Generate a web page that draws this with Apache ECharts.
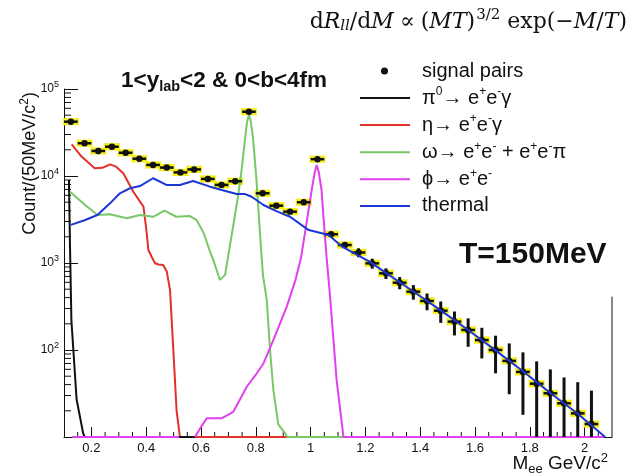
<!DOCTYPE html>
<html><head><meta charset="utf-8">
<script src="https://cdn.jsdelivr.net/npm/echarts@6/dist/echarts.min.js"></script>
<style>html,body{margin:0;padding:0;background:#fff}#c{width:636px;height:476px}</style>
</head><body><div id="c"></div>
<script>
// ---------------- data ----------------
const massBins = [0.125,0.175,0.225,0.275,0.325,0.375,0.425,0.475,0.525,0.575,0.625,0.675,0.725,0.775,0.825,0.875,0.925,0.975,1.025,1.075,1.125,1.175,1.225,1.275,1.325,1.375,1.425,1.475,1.525,1.575,1.625,1.675,1.725,1.775,1.825,1.875,1.925,1.975,2.025];
const signalCounts = [42100,23800,19400,21700,18500,15800,13400,12500,11000,11900,9250,7900,8700,54800,6330,4560,3890,4990,15600,2140,1610,1320,991,761,594,468,366,283,212,170,130,100,75,56,41,31.8,24.4,18.7,14.1];
const signalErrors = [600,400,350,380,350,320,300,300,280,300,260,240,260,900,220,190,180,210,400,130,130,155,130,107,95,89,80,78,65,61,50,46,44,38,33,28,24,24,20];
const systematicRel = 0.1;
const binHalfWidth = 0.025;

const pi0Curve = [[0.118,9000],[0.122,1500],[0.127,220],[0.146,27],[0.17,11],[0.176,10],[0.58,10]];
const etaCurve = [[0.128,23100],[0.164,16700],[0.212,12300],[0.24,12400],[0.268,13600],[0.29,12800],[0.317,10700],[0.353,6600],[0.39,4440],[0.40,2500],[0.408,1410],[0.42,1180],[0.432,993],[0.445,960],[0.462,948],[0.475,800],[0.487,490],[0.499,100],[0.511,20],[0.523,10],[0.97,10]];
const omegaCurve = [[0.122,6600],[0.177,4640],[0.222,3560],[0.268,3630],[0.329,3270],[0.377,3560],[0.425,3400],[0.467,3990],[0.51,3400],[0.558,3470],[0.584,3120],[0.61,2200],[0.633,1350],[0.645,1080],[0.669,640],[0.688,730],[0.70,1240],[0.712,2100],[0.724,3560],[0.736,6050],[0.749,12300],[0.761,27100],[0.768,42000],[0.775,50200],[0.782,42000],[0.790,27100],[0.802,9420],[0.814,2500],[0.826,728],[0.840,376],[0.852,100],[0.864,35],[0.882,14],[0.907,11],[0.915,10],[1.17,10]];
const phiCurve = [[0.13,10],[0.52,10],[0.55,null],[0.578,10],[0.60,13],[0.621,16.4],[0.675,16.4],[0.718,19.5],[0.745,28],[0.767,37.8],[0.80,52],[0.828,70],[0.864,130],[0.913,315],[0.945,640],[0.965,1150],[0.985,2860],[1.004,6900],[1.015,11000],[1.022,13400],[1.03,11000],[1.040,6900],[1.046,3720],[1.058,1200],[1.07,450],[1.095,45],[1.12,10],[2.07,10]];
const thermalCurve = [[0.125,2740],[0.175,3100],[0.222,3560],[0.268,4850],[0.304,6330],[0.341,7230],[0.377,7670],[0.425,9420],[0.474,7890],[0.523,7890],[0.571,8770],[0.633,7540],[0.676,6900],[0.73,6200],[0.761,6200],[0.785,5780],[0.828,4640],[0.875,3950],[0.925,3400],[0.993,2390],[1.066,2100],[1.115,1540],[1.215,1035],[1.275,770],[1.375,470],[1.475,285],[1.575,170],[1.675,99],[1.775,57],[1.875,32],[1.975,18.5],[2.075,10]];

const xRange = [0.1, 2.1];
const yRange = [10, 100000];
const rightFrameSpan = [10, 410];

// minor tick positions (axis decoration)
const yMinorTicks = [];
[10,100,1000,10000].forEach(d => { for (let m = 2; m <= 9; m++) yMinorTicks.push(m * d); });
const xMinorTicks = [];
for (let k = 3; k <= 41; k++) { const v = +(k * 0.05).toFixed(2); if (Math.abs(v / 0.2 - Math.round(v / 0.2)) > 1e-6 && v < 2.1) xMinorTicks.push(v); }

// ---------------- chart ----------------
const FONT = '"Liberation Sans", Arial, Helvetica, sans-serif';
const SERIF = '"DejaVu Serif", "Liberation Serif", serif';
const INK = '#111';
const C = { pi0: '#111111', eta: '#e2302a', omega: '#78c866', phi: '#e040ee', thermal: '#1a36d6' };

const legendLabels = {
  'pi0': '{t|π}{sup|0}{t|→ e}{sup|+}{t|e}{sup|-}{t|γ}',
  'eta': '{t|η→ e}{sup|+}{t|e}{sup|-}{t|γ}',
  'omega': '{t|ω→ e}{sup|+}{t|e}{sup|-}{t| + e}{sup|+}{t|e}{sup|-}{t|π}',
  'phi': '{t|ϕ→ e}{sup|+}{t|e}{sup|-}',
  'thermal': '{t|thermal}',
  'signal pairs': '{t|signal pairs}'
};
const legendRich = {
  t: { fontSize: 20, fontFamily: FONT, color: INK },
  sup: { fontSize: 12, fontFamily: FONT, color: INK, padding: [0, 0, 12, 0] }
};

const chart = echarts.init(document.getElementById('c'));

function lineSeries(name, data, color, z) {
  return { name, type: 'line', data, showSymbol: false, symbol: 'none', connectNulls: false,
    lineStyle: { color, width: 2 }, itemStyle: { color }, z, animation: false, silent: true };
}

const fr = { fontSize: 22, fontFamily: SERIF, fontWeight: 'normal', color: INK };
const option = {
  animation: false,
  backgroundColor: '#fff',
  grid: { left: 64, right: 24, top: 89, bottom: 39 },
  title: [
    { text: '{r|d}{i|R}{is|ll}{r|/d}{i|M}{o|∝}{r|(}{i|MT}{r|)}{sup|3/2}{r| exp(−}{i|M}{r|/}{i|T}{r|)}',
      right: 4, top: 3,
      textStyle: { fontWeight: 'normal', rich: {
        r: fr,
        o: Object.assign({}, fr, { padding: [0, 6, 0, 6] }),
        i: Object.assign({}, fr, { fontStyle: 'italic' }),
        is: { fontSize: 15, fontFamily: SERIF, fontWeight: 'normal', fontStyle: 'italic', color: INK, padding: [9, 0, 0, 0] },
        sup: { fontSize: 15, fontFamily: SERIF, fontWeight: 'normal', color: INK, padding: [0, 0, 13, 1] }
      } } },
    { text: '{b|1<y}{s|lab}{b|<2 & 0<b<4fm}', left: 116, top: 62,
      textStyle: { rich: {
        b: { fontSize: 22.5, fontWeight: 'bold', fontFamily: FONT, color: INK },
        s: { fontSize: 14.5, fontWeight: 'bold', fontFamily: FONT, color: INK, padding: [12, 0, 0, 0] }
      } } },
    { text: 'T=150MeV', left: 454, top: 235,
      textStyle: { fontSize: 30, fontWeight: 'bold', fontFamily: FONT, color: INK } },
    { text: '{m|M}{s|ee}{m| GeV/c}{p|2}', right: 23, top: 447,
      textStyle: { fontWeight: 'normal', rich: {
        m: { fontSize: 19, fontFamily: FONT, fontWeight: 'normal', color: INK },
        s: { fontSize: 13, fontFamily: FONT, fontWeight: 'normal', color: INK, padding: [10, 0, 0, 0] },
        p: { fontSize: 13, fontFamily: FONT, fontWeight: 'normal', color: INK, padding: [0, 0, 11, 0] }
      } } }
  ],
  graphic: [
    { type: 'text', x: 30, y: 92, rotation: Math.PI / 2,
      style: { text: '{m|Count/(50MeV/c}{p|2}{m|)}', align: 'right', verticalAlign: 'middle',
        rich: {
          m: { fontSize: 18, fontFamily: FONT, fill: INK, color: INK },
          p: { fontSize: 12, fontFamily: FONT, fill: INK, color: INK, padding: [0, 0, 11, 0] }
        } } }
  ],
  legend: [
    { data: [{ name: 'signal pairs', icon: 'circle' }], orient: 'vertical', left: 381, top: 61, padding: 0,
      itemWidth: 7, itemHeight: 7, selectedMode: false,
      formatter: n => legendLabels[n],
      textStyle: { rich: legendRich, padding: [0, 0, 0, 29] } },
    { data: ['pi0', 'eta', 'omega', 'phi', 'thermal'].map(n => ({ name: n, icon: 'rect' })),
      orient: 'vertical', left: 360, top: 86, padding: 0, itemWidth: 50, itemHeight: 2, itemGap: 3.6,
      selectedMode: false,
      formatter: n => legendLabels[n],
      textStyle: { rich: legendRich, padding: [0, 0, 0, 7], lineHeight: 23 } }
  ],
  xAxis: {
    type: 'value', min: xRange[0], max: xRange[1], splitNumber: 10,
    axisLine: { show: true, onZero: false, lineStyle: { color: INK, width: 1 } },
    axisTick: { show: true, inside: true, length: 10, lineStyle: { color: INK, width: 1 } },
    axisLabel: { margin: 5, fontSize: 13, fontFamily: FONT, color: INK, showMinLabel: false, showMaxLabel: false,
      formatter: v => (Math.abs(v - xRange[0]) < 1e-6 || Math.abs(v - xRange[1]) < 1e-6) ? '' : String(+v.toFixed(1)) },
    splitLine: { show: false }
  },
  yAxis: {
    type: 'log', logBase: 10, min: yRange[0], max: yRange[1],
    axisLine: { show: true, lineStyle: { color: INK, width: 1 } },
    axisTick: { show: true, inside: true, length: 14, lineStyle: { color: INK, width: 1 } },
    axisLabel: { margin: 5, fontFamily: FONT, color: INK,
      formatter: v => { const e = Math.round(Math.log10(v)); return e <= 1 ? '' : '{n|10}{e|' + e + '}'; },
      rich: { n: { fontSize: 12, fontFamily: FONT, color: INK }, e: { fontSize: 9, fontFamily: FONT, color: INK, padding: [0, 0, 8, 0] } } },
    splitLine: { show: false }
  },
  series: [
    { name: 'yminor', type: 'custom', data: yMinorTicks.map(v => [xRange[0], v]), z: 1, silent: true,
      renderItem: (p, api) => { const c = api.coord([api.value(0), api.value(1)]);
        return { type: 'line', shape: { x1: c[0], y1: c[1], x2: c[0] + 7, y2: c[1] }, style: { stroke: INK, lineWidth: 1 } }; } },
    { name: 'xminor', type: 'custom', data: xMinorTicks.map(v => [v, yRange[0]]), z: 1, silent: true,
      renderItem: (p, api) => { const c = api.coord([api.value(0), api.value(1)]);
        return { type: 'line', shape: { x1: c[0], y1: c[1], x2: c[0], y2: c[1] - 5 }, style: { stroke: INK, lineWidth: 1 } }; } },
    { name: 'frame', type: 'custom', data: [[xRange[1], rightFrameSpan[0], rightFrameSpan[1]]], z: 1, silent: true,
      renderItem: (p, api) => { const a = api.coord([api.value(0), api.value(1)]); const b = api.coord([api.value(0), api.value(2)]);
        return { type: 'line', shape: { x1: a[0], y1: a[1], x2: b[0], y2: b[1] }, style: { stroke: INK, lineWidth: 1 } }; } },
    { name: 'sys', type: 'custom', z: 3, silent: true,
      data: massBins.map((m, i) => [m, signalCounts[i]]),
      renderItem: (p, api) => { const x = api.value(0), y = api.value(1);
        const a = api.coord([x - binHalfWidth - 0.004, y * (1 + systematicRel)]);
        const b = api.coord([x + binHalfWidth + 0.004, y / (1 + systematicRel)]);
        return { type: 'rect', shape: { x: a[0], y: a[1], width: b[0] - a[0], height: b[1] - a[1] }, style: { fill: '#f4ee1c' } }; } },
    lineSeries('pi0', pi0Curve, C.pi0, 5),
    lineSeries('eta', etaCurve, C.eta, 4),
    lineSeries('omega', omegaCurve, C.omega, 6),
    lineSeries('phi', phiCurve, C.phi, 7),
    lineSeries('thermal', thermalCurve, C.thermal, 9),
    { name: 'signal pairs', type: 'custom', z: 8, silent: true, itemStyle: { color: INK },
      data: massBins.map((m, i) => [m, signalCounts[i], signalErrors[i]]),
      renderItem: (p, api) => {
        const x = api.value(0), y = api.value(1), e = api.value(2);
        const c = api.coord([x, y]);
        const l = api.coord([x - binHalfWidth, y]), r = api.coord([x + binHalfWidth, y]);
        const top = api.coord([x, y + e])[1];
        const bot = (y - e) > yRange[0] ? api.coord([x, y - e])[1] : p.coordSys.y + p.coordSys.height;
        return { type: 'group', children: [
          { type: 'line', shape: { x1: l[0], y1: c[1], x2: r[0], y2: c[1] }, style: { stroke: INK, lineWidth: 2.5 } },
          { type: 'line', shape: { x1: c[0], y1: top, x2: c[0], y2: bot }, style: { stroke: INK, lineWidth: 3 } },
          { type: 'circle', shape: { cx: c[0], cy: c[1], r: 3.2 }, style: { fill: INK } }
        ] };
      } }
  ]
};
chart.setOption(option);
</script>
</body></html>
